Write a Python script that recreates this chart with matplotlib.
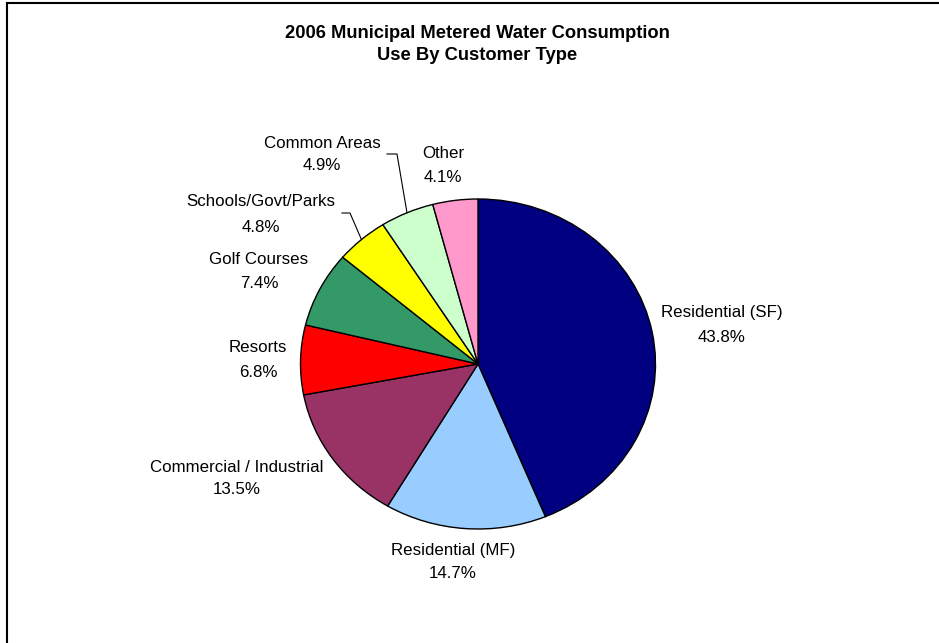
import matplotlib
matplotlib.use("Agg")
import matplotlib.pyplot as plt
from matplotlib.lines import Line2D
import numpy as np

# ---- data ----
categories = ["Residential (SF)", "Residential (MF)", "Commercial / Industrial",
              "Resorts", "Golf Courses", "Schools/Govt/Parks", "Common Areas", "Other"]
values = [43.8, 14.7, 13.5, 6.8, 7.4, 4.8, 4.9, 4.1]
colors = ["#000080", "#99CCFF", "#993366", "#FF0000", "#339966", "#FFFF00",
          "#CCFFCC", "#FF99CC"]
title_lines = ["2006 Municipal Metered Water Consumption", "Use By Customer Type"]

# ---- layout (pixels) ----
W, H = 939, 643
cx, cy, rx, ry = 478, 364, 177.5, 165
# label centre x, line1 y, line2 y
label_pos = [(722, 313, 337), (453, 550, 573), (237, 467, 490), (258, 348, 372),
             (259, 260, 283), (261, 202, 227), (322, 143, 166), (443, 154, 178)]
# leader line elbows for labels that have one: index -> (start, elbow)
leaders = {5: ((342, 213), (350, 213)), 6: ((387, 154), (397, 154))}

fig = plt.figure(figsize=(W / 100, H / 100), dpi=100)
fig.patch.set_facecolor("white")

def fx(px):
    return px / W

def fy(py):
    return 1 - py / H

ax = fig.add_axes([fx(cx - rx), fy(cy + ry), 2 * rx / W, 2 * ry / H])
wedges, _ = ax.pie(values, colors=colors, startangle=90, counterclock=False,
                   wedgeprops=dict(edgecolor="black", linewidth=1.0))
ax.set_aspect("auto")
ax.set_xlim(-1, 1)
ax.set_ylim(-1, 1)
ax.axis("off")

font = "Liberation Sans"
for i, (name, v) in enumerate(zip(categories, values)):
    x, y1, y2 = label_pos[i]
    fig.text(fx(x), fy(y1), name, ha="center", va="center", fontsize=12.2,
             family=font, color="black")
    fig.text(fx(x), fy(y2), f"{v:.1f}%", ha="center", va="center", fontsize=12.2,
             family=font, color="black")

# leader lines to wedge mid-angle on the rim
for i, (p0, p1) in leaders.items():
    w = wedges[i]
    mid = np.deg2rad((w.theta1 + w.theta2) / 2)
    ex = cx + rx * np.cos(mid)
    ey = cy - ry * np.sin(mid)
    fig.add_artist(Line2D([fx(p0[0]), fx(p1[0]), fx(ex)],
                          [fy(p0[1]), fy(p1[1]), fy(ey)],
                          color="black", linewidth=0.8))

fig.text(fx(477), fy(33), title_lines[0], ha="center", va="center",
         fontsize=13.2, fontweight="bold", family=font)
fig.text(fx(477), fy(55), title_lines[1], ha="center", va="center",
         fontsize=13.2, fontweight="bold", family=font)

# chart frame (top and left edges visible)
fig.add_artist(Line2D([fx(7), fx(7)], [0, fy(3)], color="black", linewidth=1.5))
fig.add_artist(Line2D([fx(7), 1], [fy(3), fy(3)], color="black", linewidth=1.5))

fig.savefig("out.png", dpi=100, facecolor="white")
